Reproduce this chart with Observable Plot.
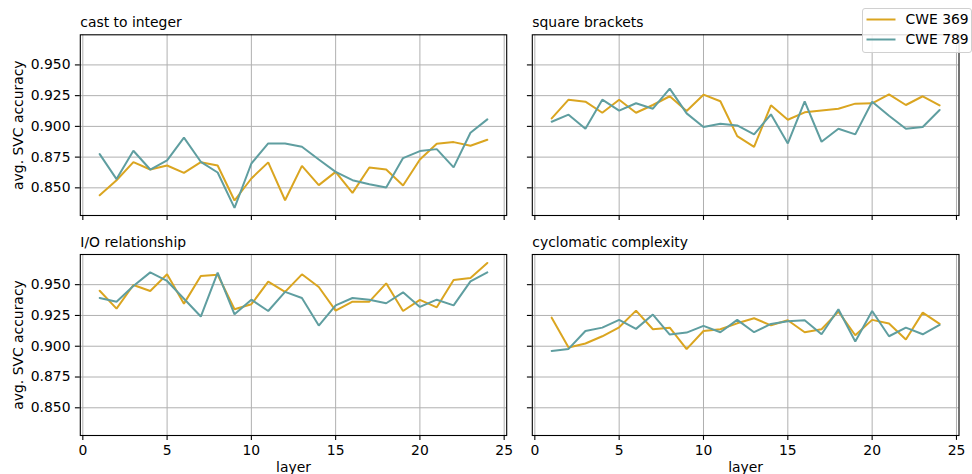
<!DOCTYPE html>
<html>
<head>
<meta charset="utf-8">
<script src="https://cdn.jsdelivr.net/npm/d3@7"></script>
<script src="https://cdn.jsdelivr.net/npm/@observablehq/plot@0.6"></script>
<style>
  html, body { margin: 0; padding: 0; background: #fff; }
  #chart { position: relative; width: 972px; height: 474px; font-family: "DejaVu Sans", sans-serif; color: #000; overflow: hidden; }
  #chart .panel { position: absolute; }
  #legend { position: absolute; left: 861.5px; top: 8px; width: 108px; height: 42.5px; border: 1px solid #d0d0d0; border-radius: 3px; background: rgba(255,255,255,0.85); font-size: 13.9px; z-index: 5; }
  #legend .row { position: absolute; left: 0; height: 20px; }
  #legend svg { position: absolute; left: 3.5px; }
  #legend span { position: absolute; left: 43px; white-space: nowrap; }
</style>
</head>
<body>
<div id="chart"></div>
<script>
// ---- data ----
const layers = [1,2,3,4,5,6,7,8,9,10,11,12,13,14,15,16,17,18,19,20,21,22,23,24];
const seriesNames = ["CWE 369", "CWE 789"];
const seriesColors = ["#daa520", "#5f9ea0"];
const panelTitles = ["cast to integer", "square brackets", "I/O relationship", "cyclomatic complexity"];
const xTicks = [0, 5, 10, 15, 20, 25];
const yTicks = [0.850, 0.875, 0.900, 0.925, 0.950];
const yLabel = "avg. SVC accuracy";
const xLabel = "layer";

const cast369 = [0.8440,0.8562,0.8709,0.8649,0.8682,0.8622,0.8709,0.8682,0.8397,0.8576,0.8707,0.8399,0.8679,0.8522,0.8630,0.8459,0.8666,0.8649,0.8519,0.8731,0.8859,0.8872,0.8842,0.8891];
const cast789 = [0.8774,0.8571,0.8802,0.8649,0.8723,0.8908,0.8712,0.8625,0.8337,0.8698,0.8861,0.8861,0.8834,0.8731,0.8630,0.8562,0.8530,0.8503,0.8742,0.8799,0.8815,0.8666,0.8948,0.9057];
const square369 = [0.9065,0.9217,0.9201,0.9111,0.9217,0.9111,0.9174,0.9245,0.9125,0.9258,0.9204,0.8921,0.8834,0.9171,0.9054,0.9114,0.9130,0.9144,0.9185,0.9188,0.9261,0.9174,0.9245,0.9171];
const square789 = [0.9038,0.9095,0.8981,0.9217,0.9128,0.9188,0.9144,0.9307,0.9106,0.8995,0.9022,0.9008,0.8935,0.9098,0.8861,0.9204,0.8875,0.8981,0.8935,0.9201,0.9087,0.8981,0.8995,0.9133];
const io369 = [0.9451,0.9305,0.9497,0.9449,0.9584,0.9346,0.9570,0.9581,0.9300,0.9341,0.9524,0.9441,0.9584,0.9481,0.9289,0.9362,0.9362,0.9511,0.9286,0.9376,0.9316,0.9538,0.9554,0.9676];
const io789 = [0.9392,0.9362,0.9489,0.9600,0.9530,0.9386,0.9241,0.9597,0.9259,0.9378,0.9286,0.9441,0.9392,0.9168,0.9332,0.9392,0.9378,0.9349,0.9438,0.9319,0.9378,0.9332,0.9527,0.9600];
const cyclo369 = [0.9232,0.8989,0.9022,0.9081,0.9154,0.9289,0.9138,0.9151,0.8976,0.9124,0.9138,0.9186,0.9227,0.9170,0.9211,0.9114,0.9138,0.9281,0.9089,0.9214,0.9184,0.9054,0.9273,0.9181];
const cyclo789 = [0.8962,0.8978,0.9124,0.9151,0.9214,0.9141,0.9257,0.9095,0.9111,0.9165,0.9114,0.9214,0.9114,0.9181,0.9203,0.9211,0.9097,0.9300,0.9038,0.9286,0.9081,0.9151,0.9097,0.9173];

const panelSeries = [[cast369, cast789], [square369, square789], [io369, io789], [cyclo369, cyclo789]];

function tidy(pair) {
  const rows = [];
  pair.forEach((vals, s) => layers.forEach((l, i) => rows.push({layer: l, acc: vals[i], series: seriesNames[s]})));
  return rows;
}

const FONT = "13.9px";
const chart = document.getElementById("chart");

// panel boxes: [left, top, width, height, mL, mR, mT, mB]
const boxes = [
  [0,   0,   520, 230, 79.8, 13.8, 34.3, 15],
  [520, 0,   452, 230, 11.8, 13.5, 34.3, 15],
  [0,   230, 520, 244, 79.8, 13.8, 24,   39],
  [520, 230, 452, 244, 11.8, 13.5, 24,   39]
];

boxes.forEach((b, p) => {
  const [left, top, width, height, mL, mR, mT, mB] = b;
  const isLeft = p % 2 === 0;
  const isBottom = p >= 2;
  const data = tidy(panelSeries[p]);
  const marks = [
    Plot.gridX(xTicks, {stroke: "#b0b0b0", strokeOpacity: 1, strokeWidth: 1}),
    Plot.gridY(yTicks, {stroke: "#b0b0b0", strokeOpacity: 1, strokeWidth: 1}),
    Plot.line(data, {x: "layer", y: "acc", stroke: "series", z: "series", strokeWidth: 2, strokeLinejoin: "miter"}),
    Plot.frame({stroke: "#000", strokeWidth: 1.1}),
    Plot.axisX(xTicks, {tickSize: 4.9, tickPadding: 4.9, strokeWidth: 1.1, color: "#000",
      tickFormat: isBottom ? (d => String(d)) : (() => ""), label: null}),
    Plot.axisY(yTicks, {tickSize: 4.9, tickPadding: 4.9, strokeWidth: 1.1, color: "#000",
      tickFormat: isLeft ? d3.format(".3f") : (() => ""), label: null}),
    Plot.text([panelTitles[p]], {frameAnchor: "top-left", textAnchor: "start", lineAnchor: "bottom", dy: -7.8, fontSize: 13.9, fill: "#000"})
  ];
  if (isLeft) {
    marks.push(Plot.text([yLabel], {frameAnchor: "left", rotate: -90, textAnchor: "middle", lineAnchor: "bottom", dx: -57.5, fontSize: 13.9, fill: "#000"}));
  }
  if (isBottom) {
    marks.push(Plot.text([xLabel], {frameAnchor: "bottom", textAnchor: "middle", lineAnchor: "bottom", dy: 36.3, fontSize: 13.9, fill: "#000"}));
  }
  const svg = Plot.plot({
    width, height,
    marginLeft: mL, marginRight: mR, marginTop: mT, marginBottom: mB,
    x: {domain: [-0.15, 25.15]},
    y: {domain: [0.8275, 0.9745]},
    color: {domain: seriesNames, range: seriesColors},
    style: {fontFamily: "DejaVu Sans", fontSize: FONT, color: "#000", background: "transparent", overflow: "visible"},
    marks
  });
  svg.classList.add("panel");
  svg.style.left = left + "px";
  svg.style.top = top + "px";
  chart.appendChild(svg);
});

// legend
const legend = document.createElement("div");
legend.id = "legend";
seriesNames.forEach((name, i) => {
  const row = document.createElement("div");
  row.className = "row";
  row.style.top = (i * 20.3) + "px";
  row.style.width = "100%";
  const sw = d3.create("svg").attr("width", 30).attr("height", 20).style("top", "0px");
  sw.append("line").attr("x1", 0.5).attr("x2", 29.5).attr("y1", 10.5).attr("y2", 10.5)
    .attr("stroke", seriesColors[i]).attr("stroke-width", 2);
  row.appendChild(sw.node());
  const t = document.createElement("span");
  t.textContent = name;
  t.style.top = "2px";
  row.appendChild(t);
  legend.appendChild(row);
});
chart.appendChild(legend);
</script>
</body>
</html>
